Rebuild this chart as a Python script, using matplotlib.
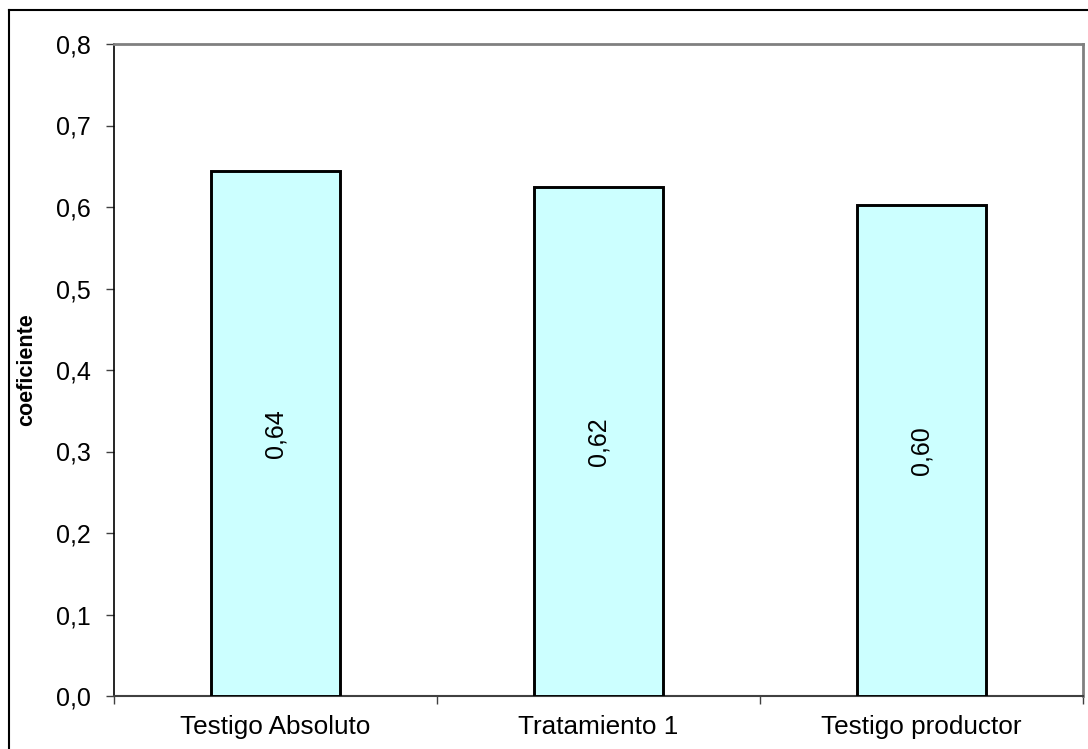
import matplotlib
matplotlib.use("Agg")
import matplotlib.pyplot as plt
from matplotlib.lines import Line2D
from matplotlib.ticker import FixedLocator, FuncFormatter

plt.rcParams['font.family'] = ['Liberation Sans', 'DejaVu Sans']

# datos
categorias = ['Testigo Absoluto', 'Tratamiento 1', 'Testigo productor']
valores = [0.644, 0.624, 0.603]
etiquetas = ['0,64', '0,62', '0,60']
y_ticks = [0.0, 0.1, 0.2, 0.3, 0.4, 0.5, 0.6, 0.7, 0.8]

FS = 18
W, H = 1088, 749
fig = plt.figure(figsize=(W / 100, H / 100), dpi=100)
ax = fig.add_axes([114 / W, 1 - 696 / H, (1083 - 114) / W, (696 - 44) / H])

x = range(len(categorias))
bars = ax.bar(x, valores, width=0.40, color='#CCFFFF', edgecolor='black', linewidth=2.1, zorder=3)

for b, txt in zip(bars, etiquetas):
    ax.text(b.get_x() + b.get_width() / 2, b.get_height() / 2, txt,
            rotation=90, ha='center', va='center', fontsize=FS, zorder=4)

ax.set_xlim(-0.5, len(categorias) - 0.5)
ax.set_ylim(0, 0.8)
ax.set_yticks(y_ticks)
ax.yaxis.set_major_formatter(FuncFormatter(lambda v, p: f"{v:.1f}".replace('.', ',')))

# categorias como etiquetas menores, ticks en los limites
ax.xaxis.set_major_locator(FixedLocator([i - 0.5 for i in range(len(categorias) + 1)]))
ax.xaxis.set_major_formatter(FuncFormatter(lambda v, p: ''))
ax.xaxis.set_minor_locator(FixedLocator(list(x)))
ax.set_xticklabels(categorias, minor=True)
ax.tick_params(axis='x', which='minor', length=0, pad=14, labelsize=18.8)
ax.tick_params(axis='x', which='major', direction='out', length=6, width=1, color='#404040')
ax.tick_params(axis='y', direction='out', length=6, width=1, color='#404040', pad=11, labelsize=FS)

for s in ['top', 'right']:
    ax.spines[s].set_color('#808080')
    ax.spines[s].set_linewidth(2)
ax.spines['left'].set_color('black')
ax.spines['left'].set_linewidth(1.2)
ax.spines['bottom'].set_color('#404040')
ax.spines['bottom'].set_linewidth(1.5)

ax.set_ylabel('coeficiente', fontsize=15.5, fontweight='bold')
ax.yaxis.set_label_coords((37 - 114) / (1083 - 114), 0.5)

# borde del area del grafico
fig.add_artist(Line2D([8.5 / W, 8.5 / W], [0, 1 - 10 / H], color='black', linewidth=1.5))
fig.add_artist(Line2D([8.5 / W, 1], [1 - 10 / H, 1 - 10 / H], color='black', linewidth=1.5))

fig.savefig('out.png', dpi=100)
